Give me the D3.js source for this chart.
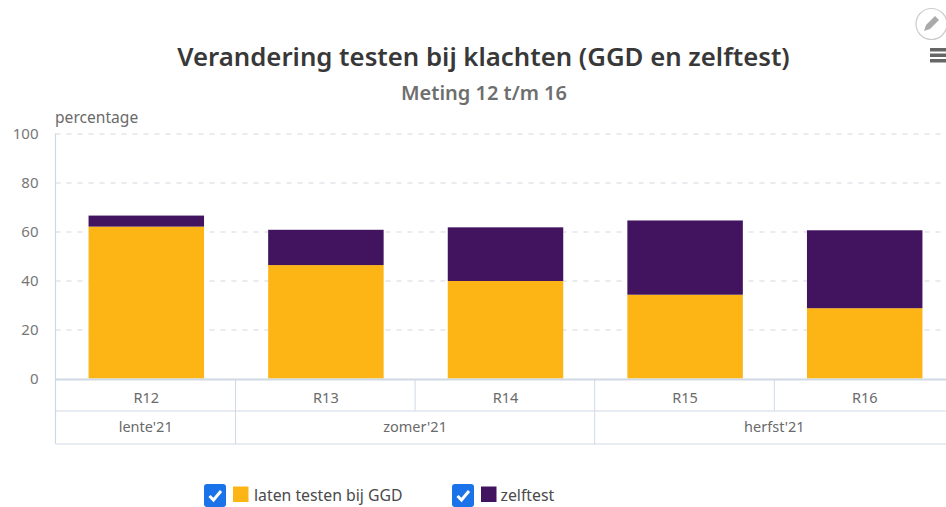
<!DOCTYPE html>
<html><head><meta charset="utf-8">
<script src="https://cdn.jsdelivr.net/npm/d3@7"></script>
<style>html,body{margin:0;padding:0;background:#fff;overflow:hidden}text{font-family:"Noto Sans",sans-serif}</style>
</head><body><svg id="c" width="946" height="507"></svg>
<script>
const categories=["R12","R13","R14","R15","R16"];
const ggd=[62,46.3,39.8,34.2,28.7];
const zelftest=[4.5,14.4,21.9,30.3,31.8];
const seasons=["lente'21","zomer'21","zomer'21","herfst'21","herfst'21"];
const yTicks=[0,20,40,60,80,100];
const seriesNames=["laten testen bij GGD","zelftest"];
const colors=["#fdb515","#42145f"];
const title="Verandering testen bij klachten (GGD en zelftest)";
const subtitle="Meting 12 t/m 16";
const yLabel="percentage";

const svg=d3.select("#c");
const x=d3.scaleBand().domain(categories).range([56.5,954.5]).paddingInner(0.357).paddingOuter(0.1785);
const step=x.step();
const y=d3.scaleLinear().domain([0,100]).range([378.5,133.5]);
const gridC="#d3d7de",tableC="#cfd9e6",textC="#6a6a6a";

svg.append("text").attr("x",483.5).attr("y",65.5).attr("text-anchor","middle").attr("font-size",25.75).attr("font-weight",600).attr("fill","#383838").text(title);
svg.append("text").attr("x",484).attr("y",99.5).attr("text-anchor","middle").attr("font-size",20).attr("font-weight",600).attr("fill","#6e6e6e").text(subtitle);
svg.append("text").attr("x",55).attr("y",123).attr("font-size",15.6).attr("fill",textC).text(yLabel);

const yAxis=svg.append("g").attr("transform","translate(55.5,0)")
 .call(d3.axisLeft(y).tickValues(yTicks).tickSize(-898).tickPadding(17));
yAxis.select(".domain").remove();
yAxis.selectAll(".tick line").attr("stroke",gridC).attr("stroke-dasharray","5,6").filter(d=>d===0).remove();
yAxis.selectAll(".tick text").attr("font-size",15).attr("fill","#777").style("font-family",'"Noto Sans",sans-serif');

svg.append("line").attr("x1",55.5).attr("x2",55.5).attr("y1",133.5).attr("y2",444).attr("stroke",tableC).attr("stroke-width",1.2);

const stack=d3.stack().keys([0,1]).value((d,k)=>[ggd,zelftest][k][d])(d3.range(categories.length));
svg.append("g").selectAll("g").data(stack).join("g").attr("fill",(d,i)=>colors[i])
 .selectAll("rect").data(d=>d.map((v,i)=>({v,i}))).join("rect")
 .attr("x",d=>x(categories[d.i])).attr("width",x.bandwidth())
 .attr("y",d=>y(d.v[1])).attr("height",d=>y(d.v[0])-y(d.v[1]));

// category table below the axis
const left=i=>x(categories[i])-step*0.1785-0.6;
const row1=410.5,row2=444;
svg.append("line").attr("x1",55.5).attr("x2",946).attr("y1",379.5).attr("y2",379.5).attr("stroke",tableC).attr("stroke-width",2);
svg.append("line").attr("x1",55.5).attr("x2",946).attr("y1",row1+.5).attr("y2",row1+.5).attr("stroke",tableC);
svg.append("line").attr("x1",55.5).attr("x2",946).attr("y1",row2).attr("y2",row2).attr("stroke",tableC).attr("stroke-width",1.2);
categories.forEach((c,i)=>{
  if(i>0){svg.append("line").attr("x1",left(i)).attr("x2",left(i)).attr("y1",379).attr("y2",seasons[i]!==seasons[i-1]?row2:row1).attr("stroke",tableC);}
  svg.append("text").attr("x",x(c)+x.bandwidth()/2).attr("y",403).attr("text-anchor","middle").attr("font-size",14.5).attr("fill",textC).text(c);
});
d3.groups(categories.map((c,i)=>({s:seasons[i],i})),d=>d.s).forEach(([s,v])=>{
  const a=left(v[0].i),b=left(v[v.length-1].i)+step;
  svg.append("text").attr("x",(a+b)/2).attr("y",432).attr("text-anchor","middle").attr("font-size",14.5).attr("fill",textC).text(s);
});

// legend
[[204,seriesNames[0]],[452,seriesNames[1]]].forEach(([lx,name],i)=>{
  const g=svg.append("g").attr("transform",`translate(${lx},484)`);
  g.append("rect").attr("width",22).attr("height",23).attr("rx",3).attr("fill","#1a73e8");
  g.append("path").attr("d","M5.5,12 L9.5,16 L17,7").attr("fill","none").attr("stroke","#fff").attr("stroke-width",3);
  g.append("rect").attr("x",29).attr("y",2.5).attr("width",15.5).attr("height",15.5).attr("fill",colors[i]);
  g.append("text").attr("x",i?48.5:50).attr("y",17).attr("font-size",15.8).attr("fill","#4a4a4a").text(name);
});

// export controls
svg.append("circle").attr("cx",931.5).attr("cy",24).attr("r",15.5).attr("fill","#fff").attr("stroke","#ccc").attr("stroke-width",1.2);
svg.append("path").attr("d","M924,31 L926,25 L935,16 L939,20 L930,29 Z").attr("fill","#aaa");
[50,55.5,61].forEach(v=>svg.append("rect").attr("x",930).attr("y",v-2).attr("width",16).attr("height",3.5).attr("fill","#666"));
</script></body></html>
